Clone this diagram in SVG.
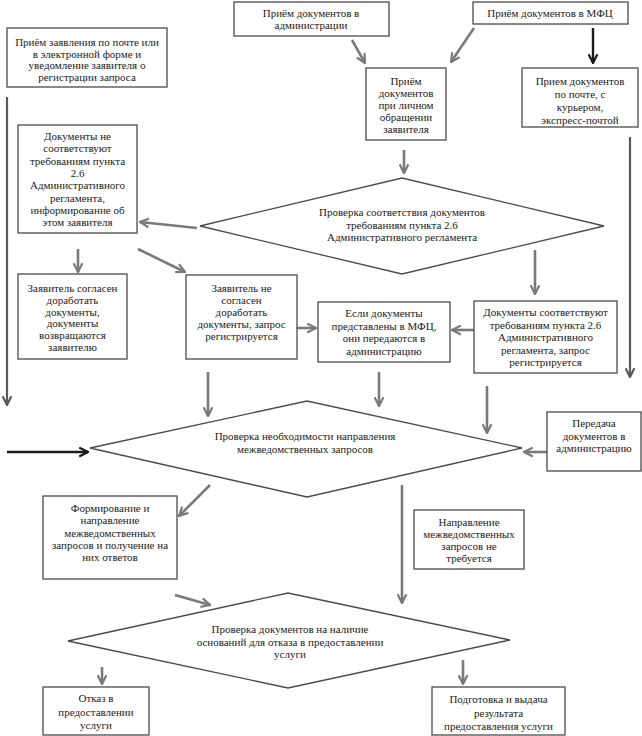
<svg xmlns="http://www.w3.org/2000/svg" width="642" height="736" viewBox="0 0 642 736">
<defs>
<style>
.b{fill:#fff;stroke:#4a4a4a;stroke-width:1.3}
.d{fill:#fff;stroke:#4a4a4a;stroke-width:1.3}
text{font-family:"Liberation Serif","Times New Roman",serif;font-size:11px;fill:#222;text-anchor:middle}
.g{stroke:#7a7a7a;stroke-width:2.6;fill:none;marker-end:url(#ag)}
.k{stroke:#1a1a1a;stroke-width:2.4;fill:none;marker-end:url(#ak)}
.dg{stroke:#5a5a5a;stroke-width:2.2;fill:none;marker-end:url(#ad)}
</style>
<marker id="ag" viewBox="0 0 10 10" refX="9" refY="5" markerWidth="11" markerHeight="11" markerUnits="userSpaceOnUse" orient="auto"><path d="M1,1 L9,5 L1,9" fill="none" stroke="#7a7a7a" stroke-width="2"/></marker>
<marker id="ak" viewBox="0 0 10 10" refX="9" refY="5" markerWidth="11" markerHeight="11" markerUnits="userSpaceOnUse" orient="auto"><path d="M1,1 L9,5 L1,9" fill="none" stroke="#1a1a1a" stroke-width="2"/></marker>
<marker id="ad" viewBox="0 0 10 10" refX="9" refY="5" markerWidth="11" markerHeight="11" markerUnits="userSpaceOnUse" orient="auto"><path d="M1,1 L9,5 L1,9" fill="none" stroke="#5a5a5a" stroke-width="2"/></marker>
</defs>
<rect width="642" height="736" fill="#fff"/>

<g id="connectors">
<path class="g" d="M352,40 L365,63"/>
<path class="g" d="M474,28 L451,62"/>
<path class="k" d="M593,28 L593,63"/>
<path class="g" d="M404,150 L404,173"/>
<path class="g" d="M197,228 L140,222"/>
<path class="g" d="M78,249 L78,272"/>
<path class="g" d="M138,249 L185,272"/>
<path class="g" d="M535,250 L535,294"/>
<path class="dg" d="M630,137 L630,377"/>
<path class="dg" d="M7,97 L7,405"/>
<path class="g" d="M297,328 L316,328"/>
<path class="g" d="M474,330 L452,330"/>
<path class="g" d="M208,372 L208,416"/>
<path class="g" d="M379,372 L379,406"/>
<path class="g" d="M487,386 L487,433"/>
<path class="k" d="M7,452 L88,452"/>
<path class="g" d="M548,452 L524,452"/>
<path class="g" d="M210,485 L179,516"/>
<path class="g" d="M402,485 L402,603"/>
<path class="g" d="M175,595 L210,605"/>
<path class="g" d="M102,667 L102,684"/>
<path class="g" d="M463,660 L463,684"/>
</g>

<g id="n-admin">
<rect class="b" x="234" y="2" width="155" height="34"/>
<text x="311" y="17">Приём документов в</text>
<text x="311" y="29">администрации</text>
</g>

<g id="n-mfc">
<rect class="b" x="473" y="2" width="155" height="22"/>
<text x="550" y="17">Приём документов в МФЦ</text>
</g>

<g id="n-mail">
<rect class="b" x="7" y="28" width="160" height="59"/>
<text x="87" y="46">Приём заявления по почте или</text>
<text x="87" y="57.7">в электронной форме и</text>
<text x="87" y="69.4">уведомление заявителя о</text>
<text x="87" y="81">регистрации запроса</text>
</g>

<g id="n-personal">
<rect class="b" x="366" y="68" width="80" height="72"/>
<text x="406" y="85">Приём</text>
<text x="406" y="97">документов</text>
<text x="406" y="109">при личном</text>
<text x="406" y="121">обращении</text>
<text x="406" y="133">заявителя</text>
</g>

<g id="n-courier">
<rect class="b" x="522" y="68" width="116" height="59"/>
<text x="580" y="85">Прием документов</text>
<text x="580" y="98">по почте, с</text>
<text x="580" y="111">курьером,</text>
<text x="580" y="124">экспресс-почтой</text>
</g>

<g id="n-notmatch">
<rect class="b" x="18" y="125" width="119" height="108"/>
<text x="77.5" y="140">Документы не</text>
<text x="77.5" y="152.3">соответствуют</text>
<text x="77.5" y="164.6">требованиям пункта</text>
<text x="77.5" y="176.9">2.6</text>
<text x="77.5" y="189.2">Административного</text>
<text x="77.5" y="201.5">регламента,</text>
<text x="77.5" y="213.8">информирование об</text>
<text x="77.5" y="226.1">этом заявителя</text>
</g>

<g id="d-check1">
<polygon class="d" points="200,226 402,178 604,226 402,274"/>
<text x="402" y="216">Проверка соответствия документов</text>
<text x="402" y="228.5">требованиям пункта 2.6</text>
<text x="402" y="241">Административного регламента</text>
</g>

<g id="n-agree">
<rect class="b" x="18" y="274" width="109" height="85"/>
<text x="72.5" y="292">Заявитель согласен</text>
<text x="72.5" y="303.8">доработать</text>
<text x="72.5" y="315.6">документы,</text>
<text x="72.5" y="327.4">документы</text>
<text x="72.5" y="339.2">возвращаются</text>
<text x="72.5" y="351">заявителю</text>
</g>

<g id="n-disagree">
<rect class="b" x="186" y="275" width="111" height="84"/>
<text x="241.5" y="292">Заявитель не</text>
<text x="241.5" y="304">согласен</text>
<text x="241.5" y="316">доработать</text>
<text x="241.5" y="328">документы, запрос</text>
<text x="241.5" y="340">регистрируется</text>
</g>

<g id="n-ifmfc">
<rect class="b" x="318" y="302" width="132" height="60"/>
<text x="384" y="317">Если документы</text>
<text x="384" y="329.5">представлены в МФЦ,</text>
<text x="384" y="342">они передаются в</text>
<text x="384" y="354.5">администрацию</text>
</g>

<g id="n-match">
<rect class="b" x="474" y="301" width="143" height="72"/>
<text x="545.5" y="316">Документы соответствуют</text>
<text x="545.5" y="328.5">требованиям пункта 2.6</text>
<text x="545.5" y="341">Административного</text>
<text x="545.5" y="353.5">регламента, запрос</text>
<text x="545.5" y="366">регистрируется</text>
</g>

<g id="d-check2">
<polygon class="d" points="90,448 307,401 522,448 307,497"/>
<text x="305" y="440">Проверка необходимости направления</text>
<text x="305" y="452.5">межведомственных запросов</text>
</g>

<g id="n-transfer">
<rect class="b" x="547" y="412" width="94" height="59"/>
<text x="594" y="427">Передача</text>
<text x="594" y="439.5">документов в</text>
<text x="594" y="452">администрацию</text>
</g>

<g id="n-forming">
<rect class="b" x="43" y="496" width="134" height="83"/>
<text x="110" y="512">Формирование и</text>
<text x="110" y="524.3">направление</text>
<text x="110" y="536.6">межведомственных</text>
<text x="110" y="548.9">запросов и получение на</text>
<text x="110" y="561.2">них ответов</text>
</g>

<g id="n-norequest">
<rect class="b" x="414" y="510" width="110" height="59"/>
<text x="469" y="526">Направление</text>
<text x="469" y="538">межведомственных</text>
<text x="469" y="550">запросов не</text>
<text x="469" y="562">требуется</text>
</g>

<g id="d-check3">
<polygon class="d" points="68,641 288,593 510,640 288,688"/>
<text x="290" y="633">Проверка документов на наличие</text>
<text x="290" y="645.5">оснований для отказа в предоставлении</text>
<text x="290" y="658">услуги</text>
</g>

<g id="n-refuse">
<rect class="b" x="43" y="687" width="106" height="48"/>
<text x="96" y="702">Отказ в</text>
<text x="96" y="715.5">предоставлении</text>
<text x="96" y="729">услуги</text>
</g>

<g id="n-result">
<rect class="b" x="432" y="687" width="133" height="48"/>
<text x="498.5" y="703">Подготовка и выдача</text>
<text x="498.5" y="716.5">результата</text>
<text x="498.5" y="730">предоставления услуги</text>
</g>
</svg>
